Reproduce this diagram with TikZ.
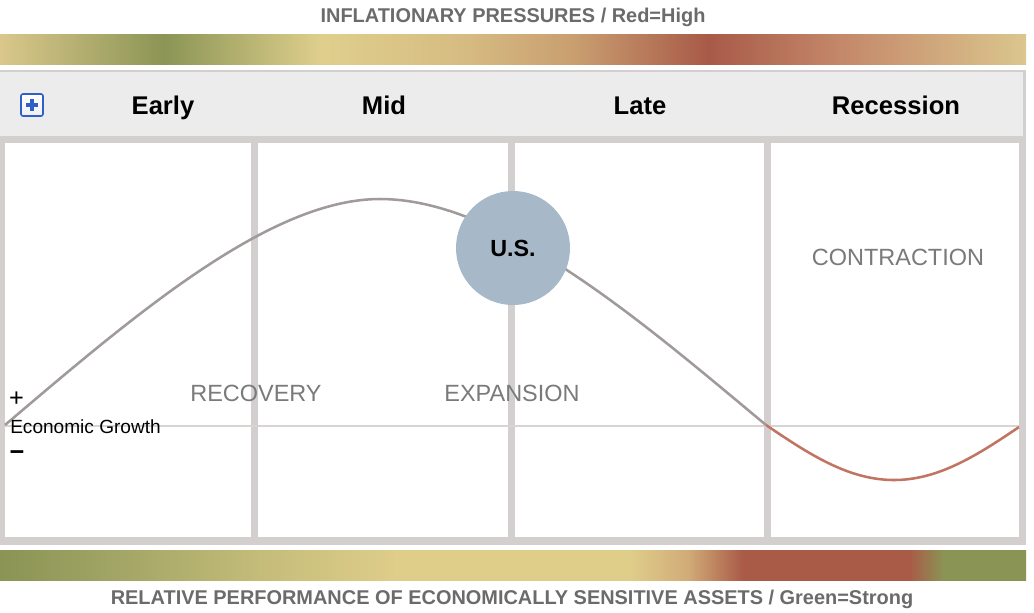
\documentclass[tikz,border=0pt]{standalone}
\usepackage{fontspec}
\setmainfont{Liberation Sans}
\usetikzlibrary{calc}
\definecolor{titlegray}{HTML}{6B6B6B}
\definecolor{framegray}{HTML}{D3CFCF}
\definecolor{headgray}{HTML}{ECECEC}
\definecolor{curvegray}{HTML}{A09A9A}
\definecolor{curvered}{HTML}{C27462}
\definecolor{labelgray}{HTML}{7A7A7A}
\definecolor{axisgray}{HTML}{D8D4D4}
\definecolor{usblue}{HTML}{A7B9C9}
\definecolor{iconblue}{HTML}{2F5FC8}
\definecolor{gA}{HTML}{DAC78B}
\definecolor{gB}{HTML}{8B9555}
\definecolor{gC}{HTML}{DFCF8D}
\definecolor{gD}{HTML}{D6BC82}
\definecolor{gE}{HTML}{C99E70}
\definecolor{gF}{HTML}{A85A48}
\definecolor{gG}{HTML}{C4886A}
\definecolor{gH}{HTML}{DBC68E}
\pgfdeclarehorizontalshading{topbar}{100bp}{
  color(0bp)=(gA); color(25bp)=(gA); color(33bp)=(gB); color(40.7bp)=(gC);
  color(47.5bp)=(gD); color(53bp)=(gE); color(59.5bp)=(gF); color(66bp)=(gG);
  color(75bp)=(gH); color(100bp)=(gH)}
\definecolor{bA}{HTML}{8A9455}
\definecolor{bB}{HTML}{A3A666}
\definecolor{bC}{HTML}{C6BD7A}
\definecolor{bD}{HTML}{DFCD8A}
\definecolor{bE}{HTML}{D1AC78}
\definecolor{bF}{HTML}{A95B48}
\definecolor{bG}{HTML}{8A9455}
\pgfdeclarehorizontalshading{botbar}{100bp}{
  color(0bp)=(bA); color(25bp)=(bA); color(31bp)=(bB); color(38bp)=(bC);
  color(44.3bp)=(bD); color(55.7bp)=(bD); color(58.5bp)=(bE); color(61.2bp)=(bF);
  color(69.3bp)=(bF); color(71bp)=(bG); color(75bp)=(bG); color(100bp)=(bG)}
\tikzset{
  bartitle/.style={anchor=base, inner sep=0pt, text=titlegray, font=\bfseries\fontsize{14.95}{17}\selectfont},
  phasehead/.style={anchor=base, inner sep=0pt, text=black, font=\bfseries\fontsize{19.2}{22}\selectfont},
  phaselabel/.style={anchor=base, inner sep=0pt, text=labelgray, font=\fontsize{17.6}{20}\selectfont},
  axislabel/.style={inner sep=0pt, text=black, font=\fontsize{14.3}{16}\selectfont},
  signlabel/.style={inner sep=0pt, text=black, font=\fontsize{19}{21}\selectfont},
  panel/.style={fill=white, draw=none},
}
\begin{document}
\begin{tikzpicture}[x=0.75pt,y=-0.75pt]
\useasboundingbox (0,0) rectangle (1034,612);
\fill[white] (0,0) rectangle (1034,612);
% titles
\node[bartitle] (toptitle) at (513,22) {INFLATIONARY PRESSURES / Red=High};
\shade[shading=topbar] (0,34) rectangle (1026,64);
\shade[shading=botbar] (0,550) rectangle (1026,580);
\node[bartitle] (bottitle) at (512,604) {RELATIVE PERFORMANCE OF ECONOMICALLY SENSITIVE ASSETS / Green=Strong};
% frame
\fill[framegray] (0,70) rectangle (1026,545);
\fill[headgray] (0,72) rectangle (1023,136);
\fill[panel] (5,143) rectangle (251,537);
\fill[panel] (258,143) rectangle (508,537);
\fill[panel] (515,143) rectangle (764,537);
\fill[panel] (771,143) rectangle (1019,537);
% icon
\draw[iconblue, line width=1.2pt, rounded corners=1.5pt, top color=white, bottom color=headgray!80] (21,94) rectangle (43,116);
\draw[iconblue, line width=3pt] (26,105) -- (38,105) (32,99) -- (32,111);
% headers
\node[phasehead] (early) at (163,114) {Early};
\node[phasehead] (mid) at (384,114) {Mid};
\node[phasehead] (late) at (640,114) {Late};
\node[phasehead] (recession) at (896,114) {Recession};
% axis
\draw[axisgray, line width=1.6pt] (5,426) -- (1019,426);
% curve
\coordinate (cstart) at (5,425);
\coordinate (cpeak) at (380,199);
\coordinate (czero) at (766,425);
\draw[curvegray, line width=1.9pt] (cstart) .. controls (135,314.5) and (270,199) .. (cpeak)
  .. controls (500,199) and (640,320) .. (czero);
\draw[curvered, line width=1.9pt] plot[domain=766:1019, samples=80, smooth] (\x, {425+55*sin((\x-766)/256*180)});
% labels
\node[phaselabel] (recovery) at (256,401.5) {RECOVERY};
\node[phaselabel] (expansion) at (512,401.5) {EXPANSION};
\node[phaselabel] (contraction) at (898,265.5) {CONTRACTION};
\node[axislabel, anchor=base west] (growth) at (10,433) {Economic Growth};
\node[signlabel] (plus) at (16.5,399) {+};
\node[signlabel, font=\bfseries\fontsize{19}{21}\selectfont] (minus) at (17,456) {−};
% US circle
\node[circle, fill=usblue, minimum size=85.5pt, inner sep=0pt] (us) at (513,248) {};
\node[anchor=base, inner sep=0pt, font=\bfseries\fontsize{17.5}{20}\selectfont] (uslabel) at (513,256.5) {U.S.};
\end{tikzpicture}
\end{document}
